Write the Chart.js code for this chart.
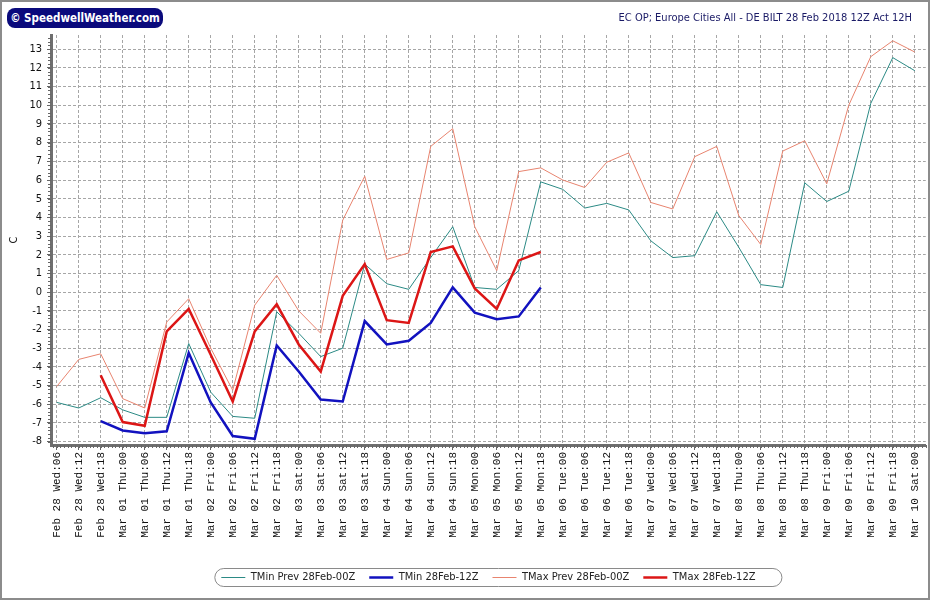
<!DOCTYPE html>
<html>
<head>
<meta charset="utf-8">
<script src="https://cdn.jsdelivr.net/npm/chart.js@4.4.1/dist/chart.umd.min.js"></script>
<style>
  html, body { margin: 0; padding: 0; background: #fff; }
  #wrap { position: relative; width: 930px; height: 600px; }
  #logo {
    position: absolute; left: 7px; top: 8px; width: 156px; height: 20px;
    background: #0a0a7c; color: #fff; border-radius: 8px; text-align: center;
    font: bold 11.5px Tahoma, "DejaVu Sans Condensed", "DejaVu Sans", sans-serif; line-height: 20px;
    white-space: nowrap; overflow: hidden;
  }
  #head {
    position: absolute; right: 18px; top: 11px; color: #1a1a66;
    font: 11px Tahoma, "DejaVu Sans Condensed", "DejaVu Sans", sans-serif; white-space: nowrap;
  }
</style>
</head>
<body>
<div id="wrap">
  <canvas id="tempChart" width="930" height="600"></canvas>
  <div id="logo">© SpeedwellWeather.com</div>
  <div id="head">EC OP; Europe Cities All - DE BILT 28 Feb 2018 12Z Act 12H</div>
</div>
<script>
const uiFont = 'Tahoma, "DejaVu Sans Condensed", "DejaVu Sans", sans-serif';

// 6-hourly steps
const timeLabels = [
  'Feb 28 Wed:06', 'Feb 28 Wed:12', 'Feb 28 Wed:18',
  'Mar 01 Thu:00', 'Mar 01 Thu:06', 'Mar 01 Thu:12', 'Mar 01 Thu:18',
  'Mar 02 Fri:00', 'Mar 02 Fri:06', 'Mar 02 Fri:12', 'Mar 02 Fri:18',
  'Mar 03 Sat:00', 'Mar 03 Sat:06', 'Mar 03 Sat:12', 'Mar 03 Sat:18',
  'Mar 04 Sun:00', 'Mar 04 Sun:06', 'Mar 04 Sun:12', 'Mar 04 Sun:18',
  'Mar 05 Mon:00', 'Mar 05 Mon:06', 'Mar 05 Mon:12', 'Mar 05 Mon:18',
  'Mar 06 Tue:00', 'Mar 06 Tue:06', 'Mar 06 Tue:12', 'Mar 06 Tue:18',
  'Mar 07 Wed:00', 'Mar 07 Wed:06', 'Mar 07 Wed:12', 'Mar 07 Wed:18',
  'Mar 08 Thu:00', 'Mar 08 Thu:06', 'Mar 08 Thu:12', 'Mar 08 Thu:18',
  'Mar 09 Fri:00', 'Mar 09 Fri:06', 'Mar 09 Fri:12', 'Mar 09 Fri:18',
  'Mar 10 Sat:00'
];

const tempTicks = [-8, -7, -6, -5, -4, -3, -2, -1, 0, 1, 2, 3, 4, 5, 6, 7, 8, 9, 10, 11, 12, 13];

const tminPrev = [
  -5.9, -6.2, -5.65, -6.3, -6.7, -6.7, -2.75, -5.35, -6.65, -6.75,
  -1.05, -2.2, -3.45, -3.0, 1.5, 0.45, 0.15, 1.85, 3.5, 0.25,
  0.15, 1.15, 5.9, 5.5, 4.5, 4.75, 4.4, 2.75, 1.85, 1.95,
  4.3, 2.4, 0.4, 0.25, 5.85, 4.85, 5.4, 10.1, 12.55, 11.85
];

const tmin12 = [
  null, null, -6.9, -7.4, -7.55, -7.45, -3.25, -5.9, -7.7, -7.85,
  -2.85, -4.25, -5.75, -5.85, -1.55, -2.8, -2.6, -1.65, 0.25, -1.1,
  -1.45, -1.3, 0.25, null, null, null, null, null, null, null,
  null, null, null, null, null, null, null, null, null, null
];

const tmaxPrev = [
  -5.05, -3.6, -3.3, -5.7, -6.2, -1.6, -0.35, -3.0, -5.25, -0.7,
  0.9, -1.0, -2.2, 3.85, 6.2, 1.75, 2.1, 7.8, 8.75, 3.5,
  1.15, 6.45, 6.65, 6.0, 5.6, 6.95, 7.45, 4.8, 4.45, 7.25,
  7.8, 4.1, 2.55, 7.55, 8.1, 5.8, 10.0, 12.6, 13.45, 12.85
];

const tmax12 = [
  null, null, -4.45, -6.95, -7.15, -2.1, -0.9, -3.35, -5.85, -2.1,
  -0.65, -2.8, -4.25, -0.2, 1.5, -1.5, -1.65, 2.15, 2.45, 0.2,
  -0.9, 1.7, 2.15, null, null, null, null, null, null, null,
  null, null, null, null, null, null, null, null, null, null
];

const toPoints = vals => vals.map((v, i) => ({ x: i, y: v }));

// small ticks between the labelled ones + page frame
const decorations = {
  id: 'decorations',
  afterDraw(chart) {
    const { ctx, chartArea, scales: { x, y } } = chart;
    ctx.save();
    ctx.strokeStyle = '#666';
    ctx.lineWidth = 1;
    ctx.beginPath();
    for (let v = Math.ceil(y.min * 5); v <= y.max * 5; v++) {
      const py = Math.round(y.getPixelForValue(v / 5)) + 0.5;
      ctx.moveTo(chartArea.left - 3, py);
      ctx.lineTo(chartArea.left, py);
    }
    for (let v = Math.ceil(x.min * 6); v <= x.max * 6; v++) {
      const px = Math.round(x.getPixelForValue(v / 6)) + 0.5;
      ctx.moveTo(px, chartArea.bottom);
      ctx.lineTo(px, chartArea.bottom + 3);
    }
    ctx.stroke();

    // rounded frame round the legend
    const boxes = chart.legend.legendHitBoxes;
    if (boxes && boxes.length) {
      const l = Math.min(...boxes.map(b => b.left)) - 6.5;
      const r = Math.max(...boxes.map(b => b.left + b.width)) + 26.5;
      const t = boxes[0].top - 3.5;
      const h = boxes[0].height + 7;
      ctx.strokeStyle = '#8a8a8a';
      ctx.beginPath();
      ctx.roundRect(l, t, r - l, h, h / 2);
      ctx.stroke();
    }

    ctx.strokeStyle = '#8c8c8c';
    ctx.lineWidth = 2;
    ctx.strokeRect(1, 1, chart.width - 2, chart.height - 2);
    ctx.restore();
  }
};

const ctx = document.getElementById('tempChart');

new Chart(ctx, {
  type: 'line',
  data: {
    datasets: [
      { label: 'TMin Prev 28Feb-00Z', data: toPoints(tminPrev), borderColor: '#2b8a85', borderWidth: 1, order: 1 },
      { label: 'TMin 28Feb-12Z', data: toPoints(tmin12), borderColor: '#1212bf', borderWidth: 2.5, order: 0 },
      { label: 'TMax Prev 28Feb-00Z', data: toPoints(tmaxPrev), borderColor: '#e8846f', borderWidth: 1, order: 1 },
      { label: 'TMax 28Feb-12Z', data: toPoints(tmax12), borderColor: '#dc1616', borderWidth: 2.5, order: 0 }
    ]
  },
  options: {
    responsive: false,
    animation: false,
    devicePixelRatio: 1,
    layout: { padding: { left: 0, right: 3, top: 35, bottom: 7 } },
    elements: {
      point: { radius: 0, hoverRadius: 0 },
      line: { tension: 0, fill: false, borderJoinStyle: 'miter' }
    },
    plugins: {
      tooltip: { enabled: false },
      legend: {
        position: 'bottom',
        fullSize: false,
        labels: {
          usePointStyle: true,
          pointStyle: 'line',
          pointStyleWidth: 24,
          padding: 14,
          color: '#222',
          font: { family: uiFont, size: 11 },
          sort: (a, b) => a.datasetIndex - b.datasetIndex
        }
      }
    },
    scales: {
      x: {
        type: 'linear',
        min: -0.26,
        max: 39.5,
        afterBuildTicks: scale => { scale.ticks = timeLabels.map((_, i) => ({ value: i })); },
        afterFit: scale => { scale.height = 113; },
        ticks: {
          autoSkip: false,
          minRotation: 90,
          maxRotation: 90,
          padding: 2,
          color: '#111',
          font: { family: '"Liberation Mono", "Courier New", monospace', size: 11 },
          callback: value => timeLabels[value]
        },
        grid: { color: '#a6a6a6', tickColor: '#666', tickLength: 5 },
        border: { display: true, color: '#6e6e6e', width: 3, dash: [3, 2] }
      },
      y: {
        min: -8.18,
        max: 13.76,
        afterBuildTicks: scale => { scale.ticks = tempTicks.map(v => ({ value: v })); },
        afterFit: scale => { scale.width = 51; },
        ticks: {
          padding: 5,
          color: '#111',
          font: { family: uiFont, size: 11 }
        },
        title: {
          display: true,
          text: 'C',
          color: '#111',
          font: { family: uiFont, size: 11 },
          padding: { top: 8, bottom: 0 }
        },
        grid: { color: '#a6a6a6', tickColor: '#666', tickLength: 4 },
        border: { display: true, color: '#6e6e6e', width: 3, dash: [3, 2] }
      }
    }
  },
  plugins: [decorations]
});
</script>
</body>
</html>
